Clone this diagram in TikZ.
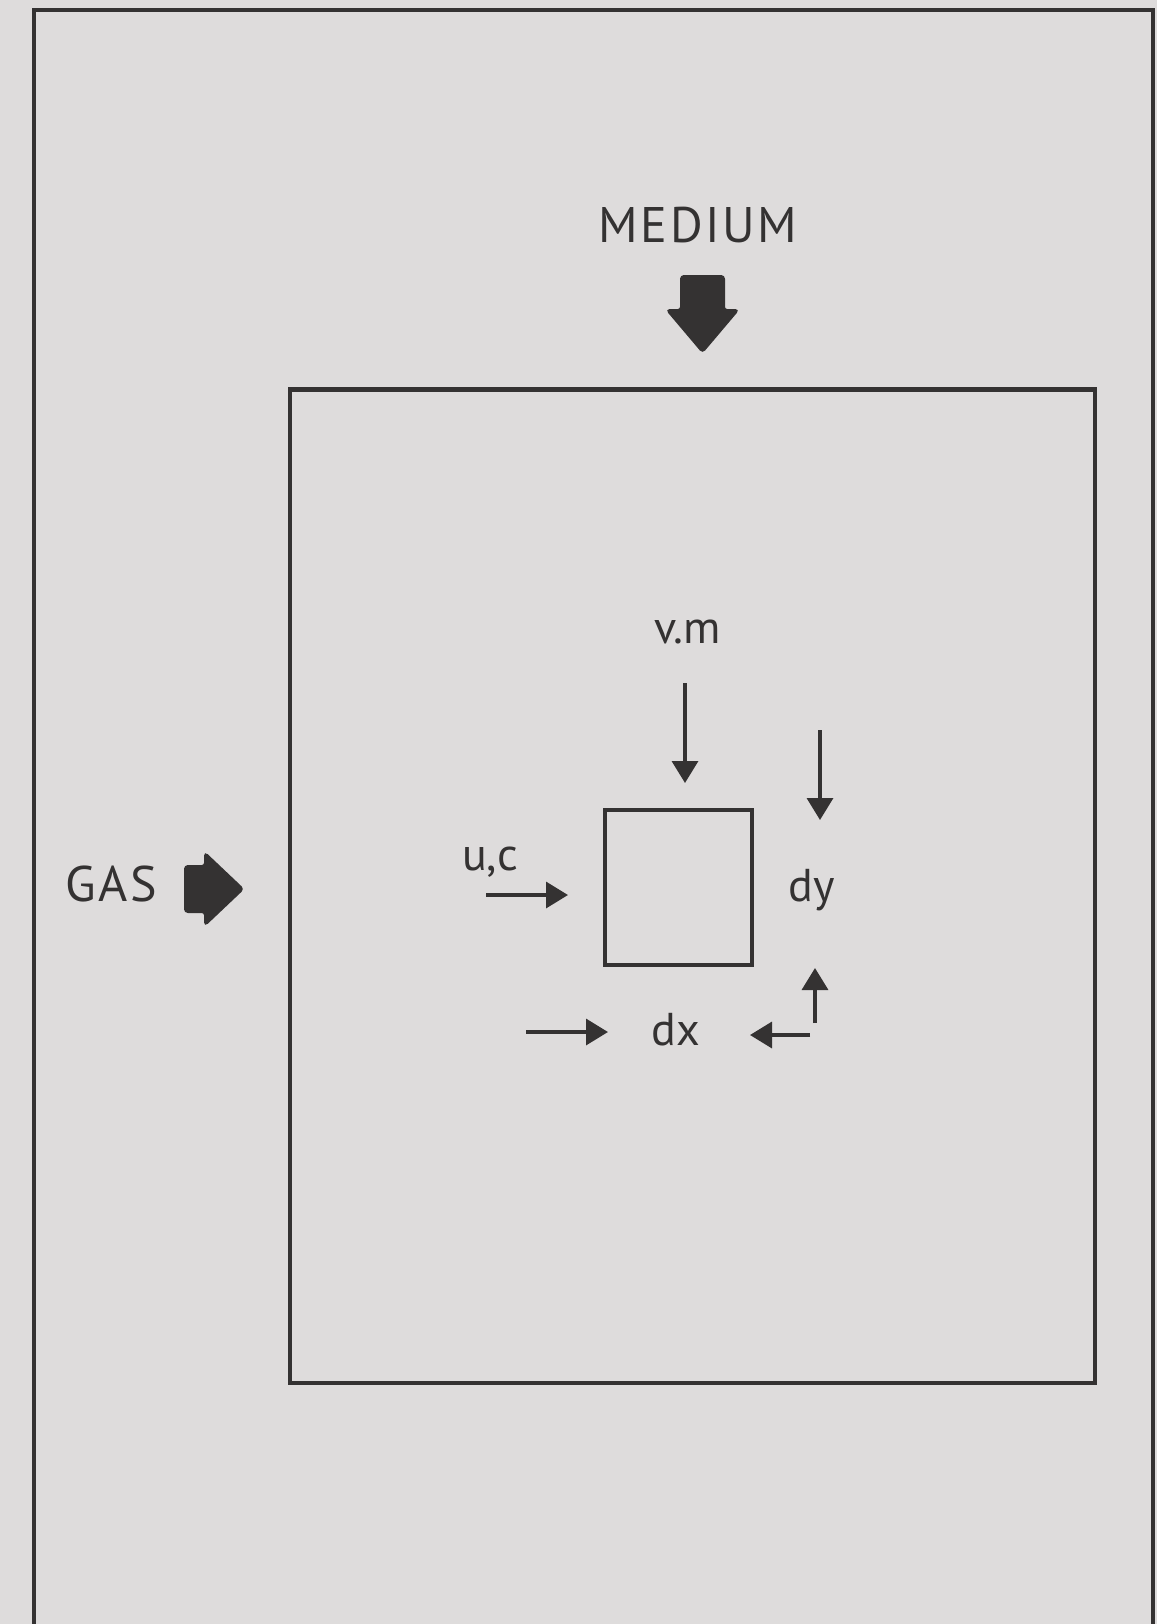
\documentclass[tikz,border=0pt]{standalone}
\usepackage{fontspec}
\setmainfont{PT Sans}
\usetikzlibrary{arrows.meta}
\definecolor{paper}{RGB}{222,220,220}
\definecolor{ink}{RGB}{52,50,50}
\begin{document}
\begin{tikzpicture}[x=0.5pt,y=-0.5pt,
  frame/.style={draw=ink, line width=2pt},
  boxnode/.style={frame, rectangle, inner sep=0pt},
  flow/.style={draw=ink, line width=1.7pt, -{Triangle[length=11pt,width=13pt]}},
  lbl/.style={text=ink, inner sep=0pt, font=\fontsize{23}{26}\selectfont},
  caplbl/.style={text=ink, inner sep=0pt, font=\addfontfeatures{LetterSpace=5}\fontsize{25}{30}\selectfont},
  blk/.style={fill=ink, draw=ink, line width=1pt, rounded corners=1.5pt}]
\fill[paper] (0,0) rectangle (1157,1624);
\useasboundingbox (0,0) rectangle (1157,1624);
% outer frame
\draw[frame] (34,1624) -- (34,10) -- (1153,10) -- (1153,1624);
% domain and cell
\node[boxnode, line width=2.3pt, minimum width=402.5pt, minimum height=496.75pt] (domain) at (692.5,886.25) {};
\node[boxnode, minimum width=73.5pt, minimum height=77.5pt] (cell) at (678.5,887.5) {};
% labels
\node[caplbl] (medium) at (698,225) {MEDIUM};
\node[caplbl] (gas) at (111,884) {GAS};
\node[lbl] (vm) at (688,632) {v.m};
\node[lbl] (uc) at (490,862) {u,c};
\node[lbl] (dy) at (812,890) {dy};
\node[lbl] (dx) at (676,1030) {dx};
% block arrows
\draw[blk] (681,276) -- (724,276) -- (724,310) -- (738,310) -- (702.5,352) -- (667,310) -- (681,310) -- cycle;
\draw[blk] (185,866) -- (205,866) -- (205,853) -- (243,889) -- (205,925) -- (205,912) -- (185,912) -- cycle;
% small arrows
\coordinate (vmA) at (685,683);  \coordinate (vmB) at (685,783);
\coordinate (ucA) at (486,895);  \coordinate (ucB) at (568,895);
\coordinate (dyA) at (820,730);  \coordinate (dyB) at (820,820);
\coordinate (dyC) at (815,1023); \coordinate (dyD) at (815,968);
\coordinate (dxA) at (526,1032); \coordinate (dxB) at (608,1032);
\coordinate (dxC) at (810,1035); \coordinate (dxD) at (750,1035);
\draw[flow] (vmA) -- (vmB);
\draw[flow] (ucA) -- (ucB);
\draw[flow] (dyA) -- (dyB);
\draw[flow] (dyC) -- (dyD);
\draw[flow] (dxA) -- (dxB);
\draw[flow] (dxC) -- (dxD);
\end{tikzpicture}
\end{document}
